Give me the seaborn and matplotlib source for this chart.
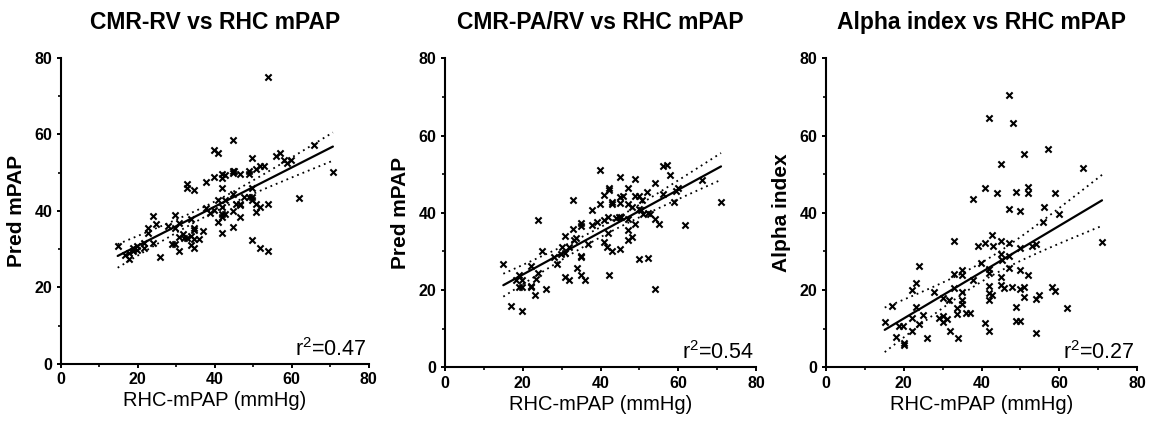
import numpy as np
import matplotlib
matplotlib.use("Agg")
import matplotlib.pyplot as plt
import seaborn as sns
from matplotlib.ticker import MultipleLocator

# ---------------- data ----------------
titles = ["CMR-RV vs RHC mPAP", "CMR-PA/RV vs RHC mPAP", "Alpha index vs RHC mPAP"]
ylabels = ["Pred mPAP", "Pred mPAP", "Alpha index"]
xlabel = "RHC-mPAP (mmHg)"
r2_labels = ["0.47", "0.54", "0.27"]

rv_x = [53.8, 44.7, 39.8, 40.8, 49.7, 65.8, 55.8, 56.9, 58.0, 58.9, 59.7, 51.8, 52.8, 50.8, 48.9, 48.9,
        46.7, 44.7, 44.7, 45.1, 41.8, 42.7, 41.8, 39.8, 37.8, 32.8, 32.8, 34.7, 41.8, 49.7, 70.7, 61.9,
        44.7, 40.8, 42.7, 47.7, 48.9, 49.7, 49.7, 45.6, 46.7, 46.7, 50.8, 51.8, 53.8, 37.8, 38.8, 39.8,
        41.8, 41.8, 42.7, 44.7, 50.8, 41.8, 40.8, 46.7, 44.7, 41.8, 49.7, 51.8, 53.8, 33.9, 29.8, 30.8,
        27.8, 29.8, 34.7, 34.7, 36.9, 33.9, 23.9, 24.7, 22.8, 22.8, 31.7, 30.8, 32.8, 31.9, 28.8, 29.8,
        30.8, 34.7, 35.8, 33.9, 34.7, 23.9, 21.7, 21.7, 19.7, 18.7, 19.7, 18.8, 17.8, 14.8, 16.8, 17.8, 25.9]
rv_y = [75.0, 58.6, 55.8, 55.1, 53.9, 57.3, 54.3, 55.1, 53.2, 52.6, 53.4, 51.7, 51.7, 50.9, 50.3, 49.7,
        49.7, 50.3, 49.9, 50.3, 49.5, 49.3, 48.7, 48.9, 47.6, 46.9, 46.0, 45.4, 46.0, 46.0, 50.2, 43.4,
        44.5, 42.8, 42.8, 43.7, 43.7, 43.7, 42.8, 41.9, 41.9, 41.5, 41.7, 41.0, 41.7, 40.8, 39.5, 40.2,
        41.0, 39.3, 39.1, 40.0, 39.6, 38.4, 37.0, 38.3, 35.7, 34.1, 32.5, 30.4, 29.5, 38.0, 38.9, 36.7,
        36.1, 35.4, 35.6, 35.0, 34.7, 33.5, 38.6, 36.5, 35.4, 34.3, 33.9, 33.2, 33.0, 32.8, 31.3, 31.3,
        29.5, 32.6, 32.6, 31.0, 30.4, 31.7, 31.5, 30.4, 30.9, 30.2, 29.9, 29.6, 28.9, 30.9, 28.4, 27.3, 28.0]

parv_x = [39.9, 45.1, 49.0, 56.0, 57.0, 58.0, 66.1, 53.9, 42.1, 42.1, 40.9, 47.0, 45.7, 45.1, 48.9, 50.0,
          51.9, 56.0, 59.9, 59.3, 33.0, 37.9, 39.9, 42.9, 42.9, 45.1, 47.0, 48.0, 50.8, 59.0, 71.0, 50.0,
          50.4, 51.0, 52.1, 52.8, 53.9, 55.0, 61.8, 24.0, 34.9, 34.9, 37.9, 39.0, 40.9, 42.0, 44.1, 44.8,
          45.3, 47.0, 49.0, 32.8, 30.9, 31.9, 33.2, 33.8, 30.2, 29.8, 30.9, 28.1, 28.9, 36.9, 42.0, 40.8,
          41.8, 42.9, 47.0, 47.0, 48.0, 45.1, 25.0, 34.9, 34.9, 50.0, 52.1, 22.0, 24.0, 23.3, 19.0, 18.2,
          19.9, 19.0, 19.9, 22.0, 22.0, 25.9, 15.0, 23.1, 16.9, 19.9, 30.9, 31.9, 33.9, 34.9, 36.0, 42.1, 53.9]
parv_y = [51.0, 49.3, 48.7, 52.0, 52.5, 49.9, 48.6, 47.7, 46.3, 46.0, 44.5, 46.3, 44.4, 44.1, 44.3, 44.3,
          45.3, 44.8, 46.5, 45.6, 43.3, 40.7, 42.4, 42.8, 42.2, 42.6, 42.4, 41.5, 43.3, 42.8, 42.8, 40.9,
          40.7, 39.8, 40.0, 39.8, 38.5, 37.0, 36.8, 38.1, 37.4, 36.7, 36.8, 37.5, 38.1, 39.0, 38.7, 39.0,
          39.0, 38.4, 37.0, 35.8, 34.0, 31.2, 33.0, 33.6, 31.2, 29.4, 29.5, 28.5, 26.8, 31.8, 34.7, 32.4,
          31.2, 30.2, 35.5, 33.0, 33.8, 30.6, 30.2, 28.8, 28.5, 28.0, 28.4, 26.3, 24.5, 22.9, 23.9, 22.5,
          22.7, 20.7, 20.7, 21.1, 20.7, 20.3, 26.8, 18.6, 15.8, 14.5, 23.3, 22.7, 25.7, 23.9, 22.7, 23.8, 20.3]

alpha_x = [47.0, 42.0, 48.0, 57.0, 51.0, 45.0, 66.1, 40.9, 43.9, 48.9, 52.0, 52.0, 59.0, 37.9, 47.0, 50.0,
           56.0, 59.9, 55.9, 32.9, 71.0, 39.0, 40.9, 42.8, 43.0, 45.0, 47.0, 50.0, 52.9, 54.0, 45.0, 45.2,
           47.0, 47.0, 23.9, 39.8, 42.0, 42.0, 50.0, 52.0, 32.9, 34.9, 34.9, 37.9, 45.0, 23.1, 22.0, 27.8,
           32.9, 42.0, 42.0, 42.8, 45.0, 45.9, 47.8, 50.0, 51.0, 58.1, 59.0, 30.1, 31.7, 34.9, 34.9, 34.9,
           42.0, 51.0, 54.0, 54.9, 16.9, 23.1, 25.0, 22.0, 23.9, 33.8, 33.8, 35.9, 37.0, 29.1, 30.1, 30.1,
           31.1, 48.9, 61.9, 48.9, 50.0, 40.9, 15.1, 18.8, 19.8, 17.9, 20.1, 20.1, 22.0, 25.9, 31.9, 34.0,
           42.0, 54.0]
alpha_y = [70.6, 64.6, 63.3, 56.6, 55.1, 52.7, 51.6, 46.5, 45.1, 45.3, 46.7, 45.0, 45.0, 43.7, 41.1, 40.5,
           41.5, 39.6, 37.7, 32.7, 32.5, 31.4, 32.2, 34.2, 31.4, 32.7, 32.2, 31.0, 31.4, 31.9, 29.3, 27.8,
           28.9, 25.8, 26.1, 26.9, 25.4, 24.3, 25.2, 23.9, 24.1, 25.2, 23.9, 22.6, 23.3, 21.8, 20.0, 19.6,
           20.6, 21.1, 19.2, 18.7, 21.3, 20.5, 20.9, 20.2, 20.9, 20.7, 19.8, 17.9, 17.3, 19.4, 17.5, 16.3,
           17.5, 18.1, 17.6, 18.7, 16.0, 15.5, 13.6, 12.7, 11.2, 15.3, 13.8, 14.0, 14.0, 12.7, 13.3, 11.7,
           12.5, 15.7, 15.3, 12.0, 12.0, 11.4, 11.6, 10.6, 10.6, 7.8, 6.3, 5.8, 9.3, 7.7, 9.3, 7.6,
           9.3, 9.0]

panels = [(rv_x, rv_y), (parv_x, parv_y), (alpha_x, alpha_y)]

# ---------------- style ----------------
sns.set_style("ticks")
plt.rcParams["font.family"] = ["Liberation Sans", "DejaVu Sans"]
plt.rcParams["mathtext.fontset"] = "custom"
plt.rcParams["mathtext.rm"] = "Liberation Sans"
plt.rcParams["mathtext.default"] = "regular"
for key in ("text.color", "axes.labelcolor", "xtick.color", "ytick.color", "axes.edgecolor"):
    plt.rcParams[key] = "black"

fig = plt.figure(figsize=(11.49, 4.25), dpi=100)
positions = [
    [60.7 / 1149, (425 - 364.0) / 425, 308 / 1149, 306.3 / 425],
    [445.0 / 1149, (425 - 367.3) / 425, 311 / 1149, 309 / 425],
    [826.0 / 1149, (425 - 367.3) / 425, 311 / 1149, 309 / 425],
]

for i, (xs, ys) in enumerate(panels):
    ax = fig.add_axes(positions[i])
    x = np.asarray(xs)
    y = np.asarray(ys)
    sns.scatterplot(x=x, y=y, marker="x", color="black", s=20, linewidth=1.5, ax=ax, zorder=3)
    sns.regplot(x=x, y=y, scatter=False, ci=None, ax=ax,
                line_kws=dict(color="black", lw=1.6))
    # 95% confidence band of the fitted line, drawn as dotted lines
    n = len(x)
    b, a = np.polyfit(x, y, 1)
    resid = y - (a + b * x)
    s = np.sqrt(np.sum(resid ** 2) / (n - 2))
    xg = np.linspace(x.min(), x.max(), 100)
    se = s * np.sqrt(1.0 / n + (xg - x.mean()) ** 2 / np.sum((x - x.mean()) ** 2))
    yg = a + b * xg
    for sign in (-1, 1):
        ax.plot(xg, yg + sign * 1.99 * se, color="black", lw=1.3, ls=(0, (1, 2.2)))

    ax.set_xlim(0, 80)
    ax.set_ylim(0, 80)
    ax.xaxis.set_major_locator(MultipleLocator(20))
    ax.xaxis.set_minor_locator(MultipleLocator(10))
    ax.yaxis.set_major_locator(MultipleLocator(20))
    ax.yaxis.set_minor_locator(MultipleLocator(10))
    ax.tick_params(which="major", direction="out", length=3, width=1.4, pad=3,
                   labelsize=11.5, color="black", labelcolor="black")
    ax.tick_params(which="minor", direction="out", length=2, width=1.2, color="black")
    for lab in ax.get_xticklabels() + ax.get_yticklabels():
        lab.set_fontweight("bold")
    sns.despine(ax=ax)
    for sp in ("left", "bottom"):
        ax.spines[sp].set_linewidth(1.5)
        ax.spines[sp].set_color("black")

    ax.set_title(titles[i], fontsize=16.5, fontweight="bold", pad=21, color="black")
    ax.set_xlabel(xlabel, fontsize=14.5, labelpad=3, color="black")
    ax.set_ylabel(ylabels[i], fontsize=15, fontweight="bold", labelpad=6, color="black")
    ax.text(79.5, 2.2, "r$^{2}$=" + r2_labels[i], ha="right", va="baseline",
            fontsize=15.5, color="black")

fig.savefig("out.png", dpi=100, facecolor="white")
